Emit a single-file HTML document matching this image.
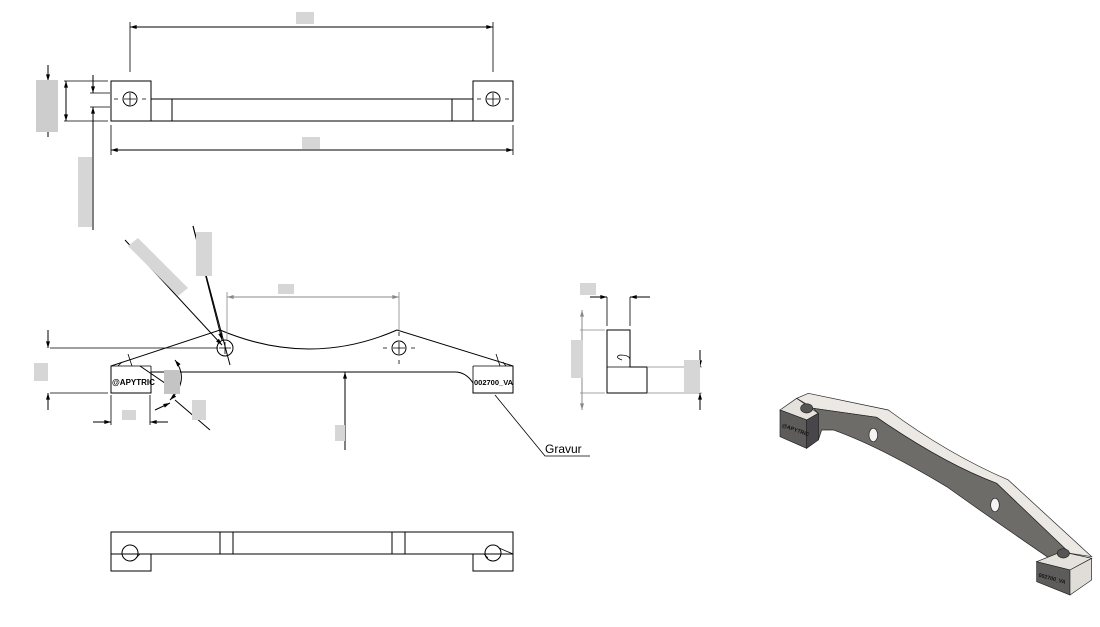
<!DOCTYPE html>
<html><head><meta charset="utf-8"><style>
html,body{margin:0;padding:0;background:#fff;width:1100px;height:627px;overflow:hidden}
svg{display:block}
text{font-family:"Liberation Sans",sans-serif}
</style></head><body>
<svg width="1100" height="627" viewBox="0 0 1100 627" xmlns="http://www.w3.org/2000/svg">
<defs>
<marker id="a" viewBox="0 0 10 6" refX="10" refY="3" markerWidth="8" markerHeight="4" orient="auto-start-reverse"><path d="M0,0L10,3L0,6Z" fill="#000"/></marker>
<marker id="g" viewBox="0 0 10 6" refX="10" refY="3" markerWidth="8" markerHeight="4" orient="auto-start-reverse"><path d="M0,0L10,3L0,6Z" fill="#888"/></marker>
</defs>
<g fill="none" stroke="#000" stroke-width="1">
<rect x="111" y="81" width="40" height="40"/>
<rect x="473" y="81" width="40" height="40"/>
<line x1="151" y1="99" x2="473" y2="99"/>
<line x1="151" y1="121" x2="473" y2="121"/>
<line x1="172" y1="99" x2="172" y2="121"/>
<line x1="452" y1="99" x2="452" y2="121"/>
<circle cx="130" cy="99" r="7"/><circle cx="493" cy="99" r="7"/>
<path d="M124,99h12M130,93v12M487,99h12M493,93v12M114,99h4M142,99h4M477,99h4M505,99h4" stroke-width="0.8"/>
<path d="M130,22v50M493,22v50M111,125v30M513,125v30" stroke-width="0.8"/>
<line x1="130" y1="27" x2="493" y2="27" marker-start="url(#a)" marker-end="url(#a)"/>
<line x1="111" y1="150" x2="513" y2="150" marker-start="url(#a)" marker-end="url(#a)"/>
<path d="M64,81h44M64,121h44M90,93h20M90,107h20" stroke-width="0.8"/>
<line x1="48" y1="65" x2="48" y2="81" marker-end="url(#a)"/>
<line x1="48" y1="137" x2="48" y2="121" marker-end="url(#a)"/>
<line x1="66" y1="81" x2="66" y2="121" marker-start="url(#a)" marker-end="url(#a)"/>
<line x1="93" y1="75" x2="93" y2="93" marker-end="url(#a)"/>
<line x1="93" y1="230" x2="93" y2="107" marker-end="url(#a)"/>
<path d="M111,393V366L220,330Q310,368 397,330L513,366V393H473V383Q466,372 455,372H151V393Z"/>
<path d="M151,366V372M473,366V383" stroke-width="0.8"/>
<path d="M111,366h40M473,366h40M118,366l4,-4M132,366l-4,-12M500,366l-4,-12M506,366l-3,-4" stroke-width="0.8"/>
<circle cx="225" cy="348" r="8"/><circle cx="399" cy="348" r="7"/>
<path d="M219,348h12M225,342v12M393,348h12M399,342v12M399,336v-4M399,360v4M387,348h-4M411,348h4" stroke-width="0.8"/>
<path d="M50,348h168M50,393h58" stroke-width="0.8"/>
<line x1="48" y1="330" x2="48" y2="348" marker-end="url(#a)"/>
<line x1="48" y1="410" x2="48" y2="393" marker-end="url(#a)"/>
<path d="M111,395v30M150,395v30" stroke-width="0.8"/>
<line x1="93" y1="422" x2="111" y2="422" marker-end="url(#a)"/>
<line x1="168" y1="422" x2="150" y2="422" marker-end="url(#a)"/>
<path d="M227,340V292M399,330V292" stroke="#888" stroke-width="0.8"/>
<line x1="227" y1="297" x2="399" y2="297" stroke="#888" marker-start="url(#g)" marker-end="url(#g)"/>
<line x1="345" y1="450" x2="345" y2="372" marker-end="url(#a)"/>
<line x1="125" y1="240" x2="222" y2="345" marker-end="url(#a)"/>
<line x1="193" y1="226" x2="230" y2="365"/>
<line x1="193" y1="226" x2="222" y2="340" marker-end="url(#a)"/>
<path d="M175,360Q190,380 170,400" marker-start="url(#a)" marker-end="url(#a)"/>
<line x1="140" y1="366" x2="175" y2="390" marker-end="url(#a)"/>
<line x1="210" y1="430" x2="175" y2="400"/>
<line x1="155" y1="410" x2="170" y2="403" marker-end="url(#a)"/>
<path d="M495,395L545,456H590" stroke-width="0.8"/>
<path d="M607,393V330H630V367H647V393Z"/>
<path d="M607,367H630" stroke-width="0.8"/>
<path d="M622,360q-8,-3 -2,-5q10,0 10,5" stroke-width="0.8"/>
<path d="M607,326V297M630,326V297" stroke-width="0.8"/>
<line x1="590" y1="297" x2="607" y2="297" marker-end="url(#a)"/>
<line x1="650" y1="297" x2="630" y2="297" marker-end="url(#a)"/>
<path d="M580,330H605M580,393H605M647,367H702M647,393H702" stroke="#888" stroke-width="0.8"/>
<line x1="582" y1="310" x2="582" y2="410" stroke="#888" marker-start="url(#g)" marker-end="url(#g)"/>
<line x1="700" y1="350" x2="700" y2="367" marker-end="url(#a)"/>
<line x1="700" y1="410" x2="700" y2="393" marker-end="url(#a)"/>
<rect x="111" y="532" width="402" height="22"/>
<path d="M111,554V571H151V554M473,554V571H513V554"/>
<path d="M220,532v22M233,532v22M392,532v22M405,532v22"/>
<circle cx="130" cy="553" r="8"/><circle cx="493" cy="553" r="8"/>
<path d="M136,558l4,-4M138,554h5M488,558l-4,-4M499,548l14,6" stroke-width="0.8"/>
</g>
<g fill="#d6d6d6">
<rect x="296" y="12" width="18" height="12"/><rect x="302" y="137" width="18" height="12"/>
<rect x="36" y="80" width="22" height="52" fill="#cdcdcd"/>
<rect x="78" y="157" width="14" height="70"/>
<rect x="196" y="232" width="16" height="44"/>
<path d="M128,246l10,-8l50,50l-10,8Z"/>
<rect x="278" y="284" width="16" height="10"/>
<rect x="34" y="363" width="14" height="18"/>
<rect x="122" y="410" width="14" height="10"/>
<rect x="164" y="370" width="16" height="24" fill="#c4c4c4"/>
<rect x="192" y="400" width="14" height="20"/>
<rect x="335" y="425" width="10" height="16"/>
<rect x="580" y="283" width="16" height="12"/>
<rect x="571" y="340" width="12" height="38"/>
<rect x="684" y="360" width="16" height="32"/>
</g>
<text x="112" y="385" font-size="8" font-weight="bold" fill="#000">@APYTRIC</text>
<text x="474" y="385" font-size="7.5" font-weight="bold" fill="#000">002700_VA</text>
<text x="545" y="453" font-size="12" fill="#000">Gravur</text>
<g transform="translate(760,380) scale(0.3333)" stroke="#222" stroke-width="2">
<path d="M110,55L145,40L385,90Q560,220 745,300L995,530L930,520L710,310Q550,250 350,112L160,85Z" fill="#ece9e4"/>
<path d="M160,85L350,112Q550,250 710,310L930,520L905,560Q700,420 560,320Q360,200 220,150L185,150L175,180L175,100Z" fill="#6e6c69"/>
<path d="M60,90L110,55L175,100L140,120Z" fill="#e5e2dd"/>
<path d="M60,90L140,120L140,205L60,170Z" fill="#5e5c5a"/>
<path d="M140,120L175,100L175,180L140,205Z" fill="#48464a"/>
<ellipse cx="140" cy="85" rx="18" ry="14" fill="#555"/>
<path d="M830,545L905,515L995,535L930,570Z" fill="#e5e2dd"/>
<path d="M830,545L930,570L930,645L830,605Z" fill="#5e5c5a"/>
<path d="M930,570L995,535L995,600L930,645Z" fill="#e0ddd8"/>
<ellipse cx="910" cy="520" rx="18" ry="14" fill="#555"/>
<ellipse cx="340" cy="165" rx="13" ry="20" fill="#f4f4f4"/>
<ellipse cx="705" cy="375" rx="13" ry="20" fill="#f4f4f4"/>
<text x="65" y="140" font-size="16" font-weight="bold" fill="#111" stroke="none" transform="rotate(20 65 140)">@APYTRIC</text>
<text x="835" y="590" font-size="16" font-weight="bold" fill="#111" stroke="none" transform="rotate(15 835 590)">002700_VA</text>
</g>
</svg>
</body></html>
